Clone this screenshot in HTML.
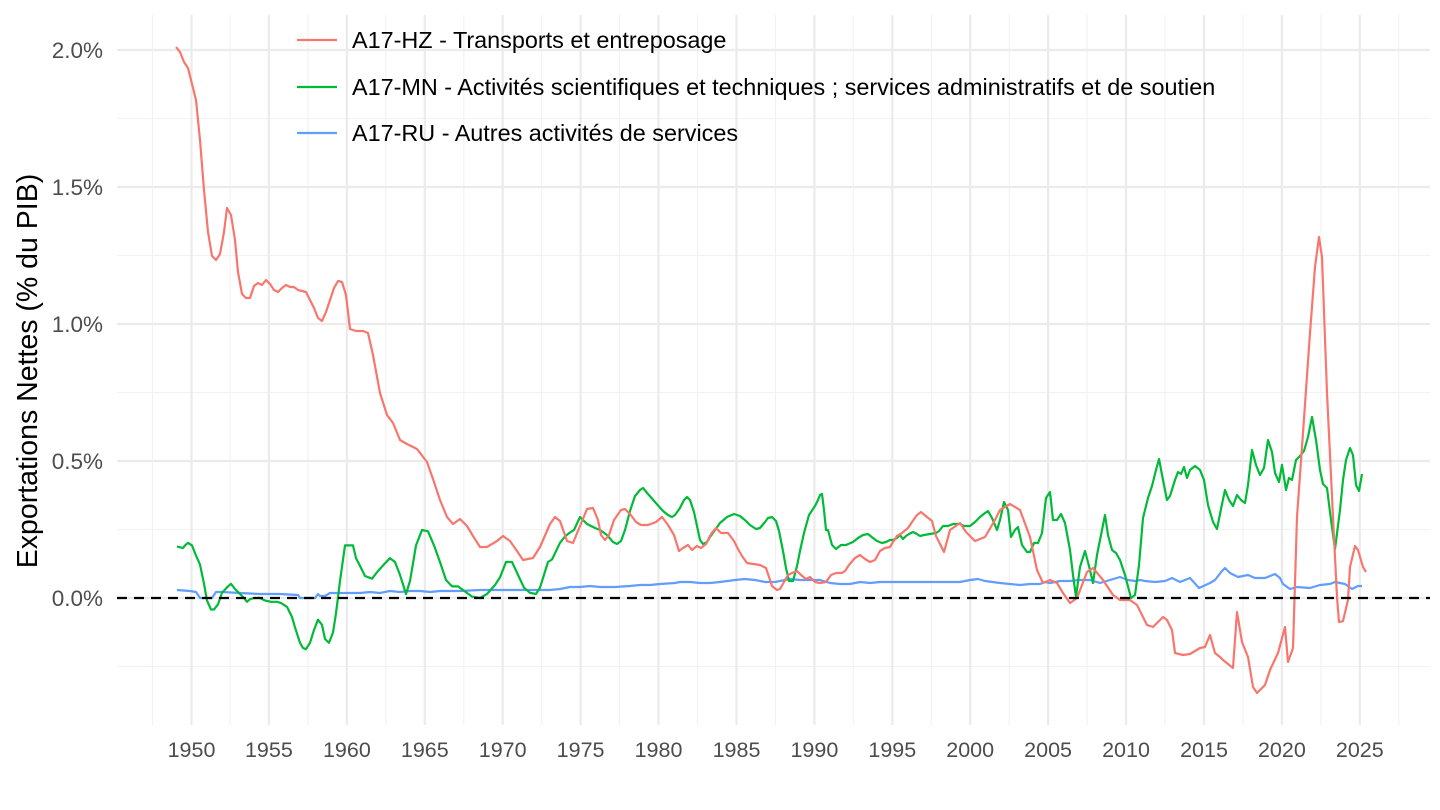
<!DOCTYPE html>
<html><head><meta charset="utf-8"><style>
body{margin:0;background:#fff}
svg{display:block}
text{font-family:"Liberation Sans",Arial,sans-serif}
</style></head><body>
<svg width="1440" height="810" viewBox="0 0 1440 810" xmlns="http://www.w3.org/2000/svg">
<rect width="1440" height="810" fill="#fff"/>
<g stroke="#f2f2f2" stroke-width="1.1">
<line x1="117" x2="1430" y1="118.5" y2="118.5"/><line x1="117" x2="1430" y1="255.5" y2="255.5"/><line x1="117" x2="1430" y1="392.5" y2="392.5"/><line x1="117" x2="1430" y1="529.5" y2="529.5"/><line x1="117" x2="1430" y1="666.5" y2="666.5"/>
<line y1="15" y2="725" x1="152.5" x2="152.5"/><line y1="15" y2="725" x1="230" x2="230"/><line y1="15" y2="725" x1="307.9" x2="307.9"/><line y1="15" y2="725" x1="385.8" x2="385.8"/><line y1="15" y2="725" x1="463.8" x2="463.8"/><line y1="15" y2="725" x1="541.7" x2="541.7"/><line y1="15" y2="725" x1="619.6" x2="619.6"/><line y1="15" y2="725" x1="697.5" x2="697.5"/><line y1="15" y2="725" x1="775.4" x2="775.4"/><line y1="15" y2="725" x1="853.3" x2="853.3"/><line y1="15" y2="725" x1="931.3" x2="931.3"/><line y1="15" y2="725" x1="1009.2" x2="1009.2"/><line y1="15" y2="725" x1="1087.1" x2="1087.1"/><line y1="15" y2="725" x1="1165" x2="1165"/><line y1="15" y2="725" x1="1242.9" x2="1242.9"/><line y1="15" y2="725" x1="1320.9" x2="1320.9"/><line y1="15" y2="725" x1="1398.8" x2="1398.8"/>
</g>
<g stroke="#ebebeb" stroke-width="2.2">
<line x1="117" x2="1430" y1="50" y2="50"/><line x1="117" x2="1430" y1="187" y2="187"/><line x1="117" x2="1430" y1="324" y2="324"/><line x1="117" x2="1430" y1="461" y2="461"/><line x1="117" x2="1430" y1="598" y2="598"/>
<line y1="15" y2="725" x1="191.5" x2="191.5"/><line y1="15" y2="725" x1="268.9" x2="268.9"/><line y1="15" y2="725" x1="346.9" x2="346.9"/><line y1="15" y2="725" x1="424.8" x2="424.8"/><line y1="15" y2="725" x1="502.7" x2="502.7"/><line y1="15" y2="725" x1="580.6" x2="580.6"/><line y1="15" y2="725" x1="658.5" x2="658.5"/><line y1="15" y2="725" x1="736.5" x2="736.5"/><line y1="15" y2="725" x1="814.4" x2="814.4"/><line y1="15" y2="725" x1="892.3" x2="892.3"/><line y1="15" y2="725" x1="970.2" x2="970.2"/><line y1="15" y2="725" x1="1048.1" x2="1048.1"/><line y1="15" y2="725" x1="1126" x2="1126"/><line y1="15" y2="725" x1="1204" x2="1204"/><line y1="15" y2="725" x1="1281.9" x2="1281.9"/><line y1="15" y2="725" x1="1359.8" x2="1359.8"/>
</g>
<g fill="#4d4d4d" font-size="22.5" text-anchor="end">
<text x="103" y="58">2.0%</text><text x="103" y="195">1.5%</text><text x="103" y="332">1.0%</text><text x="103" y="469">0.5%</text><text x="103" y="606">0.0%</text>
</g>
<g fill="#4d4d4d" font-size="21.5" text-anchor="middle">
<text x="191.5" y="757">1950</text><text x="268.9" y="757">1955</text><text x="346.9" y="757">1960</text><text x="424.8" y="757">1965</text><text x="502.7" y="757">1970</text><text x="580.6" y="757">1975</text><text x="658.5" y="757">1980</text><text x="736.5" y="757">1985</text><text x="814.4" y="757">1990</text><text x="892.3" y="757">1995</text><text x="970.2" y="757">2000</text><text x="1048.1" y="757">2005</text><text x="1126" y="757">2010</text><text x="1204" y="757">2015</text><text x="1281.9" y="757">2020</text><text x="1359.8" y="757">2025</text>
</g>
<text transform="translate(37,371) rotate(-90)" font-size="28.5" text-anchor="middle" fill="#000">Exportations Nettes (% du PIB)</text>
<g fill="none" stroke-width="2.2" stroke-linejoin="round">
<polyline stroke="#619cff" points="177,590 190,591 196,592 200,598 212,598 216,592 222,592 240,593 260,594 280,594 298,595 300,598 315,598 318,594 320,596 325,596 330,593 345,593 360,593 370,592 380,593 390,591 400,592 410,591 420,591 430,592 440,591 460,591 480,590 500,590 520,590 540,590 550,590 560,589 570,587 580,587 590,586 600,587 615,587 630,586 640,585 650,585 660,584 675,583 680,582 690,582 700,583 710,583 720,582 735,580 745,579 755,580 765,582 775,582 790,579 800,580 810,580 820,580 830,583 840,584 850,584 860,582 870,583 880,582 890,582 900,582 920,582 940,582 960,582 970,580 978,579 985,581 1000,583 1010,584 1020,585 1030,584 1040,584 1045,582 1050,583 1060,581 1070,581 1080,580 1090,580 1100,583 1110,580 1120,577 1128,580 1135,581 1140,580 1145,581 1155,582 1165,581 1172,578 1180,582 1185,580 1190,578 1199,588 1210,583 1215,580 1222,571 1225,568 1230,573 1238,577 1248,575 1255,578 1265,578 1270,576 1275,574 1280,578 1283,584 1290,589 1297,587 1310,588 1320,585 1330,584 1335,582 1345,584 1352,589 1358,586 1362,586"/>
<polyline stroke="#00ba38" points="177,546.6 183,548 185,545.4 188,542.8 192,545.4 196,555.6 200,564.6 204,583.8 207,600.5 211,609.5 214,609.5 218,604.3 222,592.8 228,586.4 231,583.8 235,589 240,594 244,598 247,601.8 250,599.2 254,598 260,598 265,600.5 271,601.8 277,601.8 281,603 287,606.9 292,617 295,627.4 300,642.8 303,648 306,649.2 310,642.8 314,630 318,619.7 322,624.8 325,639 329,642.8 333,632.5 336,613.3 340,581 345,545.4 350,545.4 353,545.4 356,558.2 360,565.9 365,576 372,578.7 378,571 385,563.3 390,558.2 395,562 400,574.9 406,594 410,581 416,545.4 422,530 428,531.3 434,545.4 440,562 446,580 452,586.4 458,586.4 465,591.5 472,596.6 480,598 487,594 495,585 500,577.4 506,562 512,562 518,574.9 524,587.7 530,592.8 536,594 540,587.7 548,562 552,559.5 560,542.8 565,536.4 570,532.5 574,530 580,517 587,524 595,528 600,530 607,535 613,542 617,544 621,541 625,530 630,511 635,496 640,490 643,488 648,494 655,502 663,511 668,515 672,517 675,515 680,508 684,500 687,497 690,500 694,512 697,526 700,540 703,544 707,542 710,537 715,530 720,523 727,517 734,514 740,516 746,521 750,525 756,529 760,528 765,522 768,518 772,517 776,521 779,531 783,551 786,568 789,581 793,581 797,566 800,551 804,533 809,515 815,506 818,500 820,495 822,494 824,510 826,530 828,530 832,545 836,549 841,545 846,545 853,542 858,538 863,535 868,534 873,538 877,541 882,543 886,542 890,540 893,540 897,538 900,535 903,539 906,536 909,534 913,532 917,534 920,536 924,535 930,534 936,533 939,531 943,526 948,526 953,524 960,524 964,526 970,526 975,522 980,517 985,513 988,511 992,518 997,530 1000,520 1004,502 1008,510 1011,537 1015,530 1018,527 1022,545 1027,552 1030,552 1034,543 1038,543 1042,533 1046,498 1050,492 1053,520 1057,520 1061,514 1065,523 1070,550 1073,575 1076,597 1080,567 1085,551 1089,566 1093,583 1097,555 1101,535 1105,515 1108,535 1112,550 1116,553 1120,560 1125,575 1131,598 1135,595 1139,565 1143,518 1148,498 1152,486 1156,470 1159,459 1163,480 1167,500 1170,496 1175,480 1178,472 1181,474 1184,467 1187,478 1190,470 1195,466 1200,470 1204,480 1208,505 1213,522 1217,529 1221,509 1225,490 1229,500 1233,506 1237,495 1241,500 1245,503 1248,485 1252,450 1256,465 1260,475 1264,468 1268,440 1272,452 1275,473 1279,482 1282,465 1286,490 1289,478 1292,480 1296,460 1300,456 1304,451 1308,437 1312,417 1316,440 1320,470 1323,484 1327,488 1331,520 1335,549 1340,510 1343,480 1346,460 1350,448 1353,455 1356,485 1359,491 1362,474"/>
<polyline stroke="#f8766d" points="176,47 180,52 184,62 188,68 191,80 196,100 200,140 204,190 208,232 212,256 216,260 220,254 224,232 227,208 231,215 235,240 238,272 242,294 246,298 250,298 254,286 258,283 262,285 266,280 270,284 274,290 278,292 282,288 286,285 290,287 294,287 298,290 302,291 306,292 310,300 314,308 318,318 322,321 326,312 330,300 334,288 338,281 342,282 346,295 350,329 356,331 363,331 368,333 373,355 380,393 387,415 393,423 400,440 407,444 417,449 427,462 433,479 440,500 447,517 453,524 460,519 467,526 473,536 480,547 487,547 497,541 503,536 510,541 517,551 523,560 533,558 540,547 550,524 555,517 560,521 567,541 573,543 580,526 587,509 593,508 598,520 601,535 605,540 609,535 614,520 621,510 625,509 630,514 636,522 641,525 648,525 656,522 662,517 668,525 674,535 679,551 683,548 688,545 692,550 697,546 701,548 706,544 711,534 716,528 721,533 728,533 734,541 738,549 742,556 747,563 753,564 760,565 766,568 772,586 777,590 780,589 784,582 788,575 792,573 797,571 801,575 806,579 810,577 815,582 820,583 826,582 831,575 836,573 842,573 845,571 849,565 855,558 860,555 865,559 870,562 875,560 880,551 885,548 890,547 893,542 897,536 902,533 908,528 912,522 917,515 921,512 927,517 932,521 936,536 944,552 950,530 960,523 966,532 975,541 985,537 995,520 1000,510 1010,504 1020,510 1030,537 1037,570 1043,583 1050,580 1057,583 1063,593 1070,603 1077,598 1087,572 1093,568 1103,580 1113,595 1120,600 1130,600 1137,605 1147,625 1153,627 1163,617 1167,620 1172,630 1175,653 1183,655 1190,654 1200,648 1205,647 1210,635 1215,653 1220,657 1223,660 1233,668 1237,612 1242,642 1248,657 1253,687 1257,693 1260,690 1265,685 1270,670 1278,653 1285,627 1288,662 1293,648 1297,517 1303,433 1310,333 1315,267 1319,237 1322,257 1327,393 1333,517 1337,597 1339,622 1343,621 1348,600 1350,567 1355,546 1358,550 1363,567 1366,572"/>
</g>
<line x1="117" x2="1430" y1="598" y2="598" stroke="#000" stroke-width="2.2" stroke-dasharray="10,7"/>
<g stroke-width="2.2">
<line x1="297" x2="337" y1="40" y2="40" stroke="#f8766d"/>
<line x1="297" x2="337" y1="87" y2="87" stroke="#00ba38"/>
<line x1="297" x2="337" y1="133" y2="133" stroke="#619cff"/>
</g>
<g font-size="23.4" fill="#000">
<text x="352" y="48">A17-HZ - Transports et entreposage</text>
<text x="352" y="95">A17-MN - Activités scientifiques et techniques ; services administratifs et de soutien</text>
<text x="352" y="141">A17-RU - Autres activités de services</text>
</g>
</svg>
</body></html>
